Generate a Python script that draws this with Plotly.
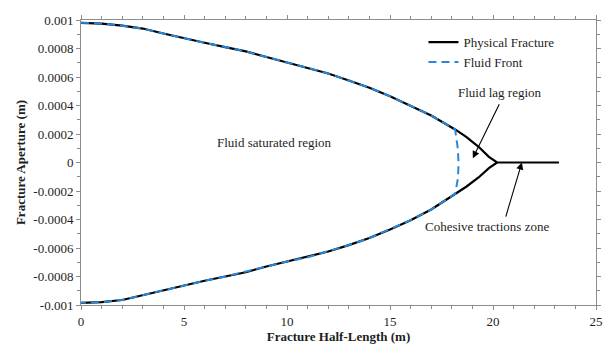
import plotly.graph_objects as go

# Physical fracture (upper and lower faces)
phys_up_x = [0, 1, 2, 3, 4, 5, 6, 7, 8, 9, 10, 11, 12, 13, 14, 15, 16, 17, 18.16,
             18.7, 19.3, 19.8, 20.2, 23.2]
phys_up_y = [0.00098, 0.000975, 0.00096, 0.00094, 0.000905, 0.00087, 0.00084, 0.00081,
             0.00078, 0.00074, 0.0007, 0.000665, 0.000625, 0.000575, 0.000525, 0.000465,
             0.0004, 0.00033, 0.000232, 0.00018, 0.00011, 0.00004, 0.0, 0.0]
phys_lo_x = [0, 1, 2, 3, 4, 5, 6, 7, 8, 9, 10, 11, 12, 13, 14, 15, 16, 17, 18.16,
             18.7, 19.3, 19.8, 20.2]
phys_lo_y = [-0.000985, -0.00098, -0.000965, -0.00093, -0.0009, -0.000865, -0.00083,
             -0.0008, -0.00077, -0.00073, -0.000695, -0.000665, -0.000625, -0.00058,
             -0.00053, -0.00047, -0.000405, -0.00033, -0.00022, -0.00017, -0.000105,
             -0.00004, 0.0]

# Fluid front: upper face to the front, the front itself, then the lower face back
front_x = [0, 1, 2, 3, 4, 5, 6, 7, 8, 9, 10, 11, 12, 13, 14, 15, 16, 17, 18.16,
           18.28, 18.33, 18.3, 18.16,
           17, 16, 15, 14, 13, 12, 11, 10, 9, 8, 7, 6, 5, 4, 3, 2, 1, 0]
front_y = [0.00098, 0.000975, 0.00096, 0.00094, 0.000905, 0.00087, 0.00084, 0.00081,
           0.00078, 0.00074, 0.0007, 0.000665, 0.000625, 0.000575, 0.000525, 0.000465,
           0.0004, 0.00033, 0.000232,
           0.00011, 0.0, -0.00011, -0.00022,
           -0.00033, -0.000405, -0.00047, -0.00053, -0.00058, -0.000625, -0.000665,
           -0.000695, -0.00073, -0.00077, -0.0008, -0.00083, -0.000865, -0.0009,
           -0.00093, -0.000965, -0.00098, -0.000985]

x_ticks = [0, 5, 10, 15, 20, 25]
y_ticks = [0.001, 0.0008, 0.0006, 0.0004, 0.0002, 0, -0.0002, -0.0004, -0.0006, -0.0008, -0.001]
y_tick_text = ["0.001", "0.0008", "0.0006", "0.0004", "0.0002", "0",
               "-0.0002", "-0.0004", "-0.0006", "-0.0008", "-0.001"]

SERIF = "Liberation Serif"
BLUE = "#2a86d6"
TXT = "#1e1e1e"

fig = go.Figure()
fig.add_trace(go.Scatter(
    x=phys_up_x + [None] + phys_lo_x, y=phys_up_y + [None] + phys_lo_y,
    mode="lines", name="Physical Fracture", line=dict(color="black", width=2.2),
))
fig.add_trace(go.Scatter(
    x=front_x, y=front_y, mode="lines", name="Fluid Front",
    line=dict(color=BLUE, width=2, dash="8px,5px"),
))

axis_common = dict(
    showline=True, linecolor="#8c8c8c", linewidth=1, mirror="allticks",
    ticks="outside", ticklen=4, tickcolor="#8c8c8c", showgrid=False, zeroline=False,
    tickfont=dict(family=SERIF, size=13, color=TXT), automargin=False,
    ticklabeloverflow="allow",
)

fig.update_xaxes(
    range=[0, 25], tickvals=x_ticks,
    minor=dict(dtick=1, ticks="outside", ticklen=3, tickcolor="#8c8c8c"),
    title=dict(text="<b>Fracture Half-Length (m)</b>", font=dict(family=SERIF, size=13, color=TXT),
               standoff=4),
    **axis_common,
)
fig.update_yaxes(
    range=[-0.001, 0.001], tickmode="array", tickvals=y_ticks, ticktext=y_tick_text,
    minor=dict(dtick=0.0001, ticks="outside", ticklen=3, tickcolor="#8c8c8c"),
    title=dict(text="<b>Fracture Aperture (m)</b>", font=dict(family=SERIF, size=13, color=TXT),
               standoff=4),
    **axis_common,
)

annots = [
    dict(x=9.38, y=0.00014, text="Fluid saturated region", showarrow=False),
    dict(x=20.34, y=0.00049, text="Fluid lag region", showarrow=False),
    dict(x=19.7, y=-0.00045, text="Cohesive tractions zone", showarrow=False),
    dict(x=19.02, y=0.00003, ax=20.34, ay=0.00042, text="", showarrow=True,
         axref="x", ayref="y", arrowhead=2, arrowsize=1.3, arrowwidth=1.1, arrowcolor="black"),
    dict(x=21.4, y=0.0, ax=20.6, ay=-0.00039, text="", showarrow=True,
         axref="x", ayref="y", arrowhead=2, arrowsize=1.3, arrowwidth=1.1, arrowcolor="black"),
]
for a in annots:
    a.setdefault("font", dict(family=SERIF, size=13, color=TXT))
    fig.add_annotation(**a)

fig.update_layout(
    width=604, height=350,
    margin=dict(l=81, r=8, t=20, b=45),
    plot_bgcolor="white", paper_bgcolor="white",
    showlegend=True,
    legend=dict(x=0.665, y=0.975, xanchor="left", yanchor="top",
                bgcolor="rgba(0,0,0,0)", font=dict(family=SERIF, size=13, color=TXT),
                tracegroupgap=2, itemwidth=30),
)

# remove the browser's default body margin so the figure fills the 604x350 window
fig.write_html("out.html", config={"displayModeBar": False},
               post_script="document.body.style.margin='0';document.body.style.overflow='hidden';")
